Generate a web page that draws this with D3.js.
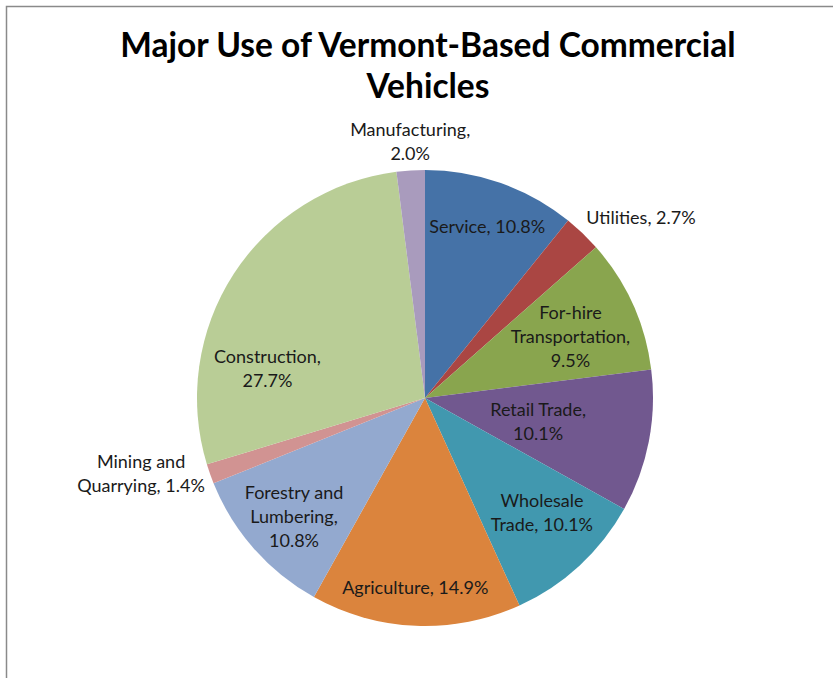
<!DOCTYPE html>
<html>
<head>
<meta charset="utf-8">
<script src="https://cdn.jsdelivr.net/npm/d3@7"></script>
<style>
  html, body { margin: 0; padding: 0; background: #fff; }
  svg { display: block; }
</style>
</head>
<body>
<svg id="chart" width="833" height="678"></svg>
<script>
// Vehicle use categories, share of Vermont-based commercial vehicles (%)
const categories = [
  "Service", "Utilities", "For-hire Transportation", "Retail Trade",
  "Wholesale Trade", "Agriculture", "Forestry and Lumbering",
  "Mining and Quarrying", "Construction", "Manufacturing"
];
const shares = [10.8, 2.7, 9.5, 10.1, 10.1, 14.9, 10.8, 1.4, 27.7, 2.0];
const colors = [
  "#4572A7", "#AA4643", "#89A54E", "#71588F", "#4198AF",
  "#DB843D", "#93A9CF", "#D19392", "#B9CD96", "#A99BBD"
];
const titleLines = ["Major Use of Vermont-Based Commercial", "Vehicles"];

// Label layout: words per line, angular nudge from the slice's mid-angle (deg),
// and distance from the centre as a fraction of the radius.
const labelWordsPerLine = [[2], [2], [1, 1, 1], [2, 1], [1, 2], [2], [2, 1, 1], [2, 2], [1, 1], [1, 1]];
const labelAngleNudge = [0.5, 6.3, 1.5, 0.9, -3.0, 0.6, -0.85, 4.5, -22.3, 0.3];
const labelRadius = [0.80, 1.236, 0.692, 0.507, 0.717, 0.834, 0.776, 1.289, 0.703, 1.128];

const W = 833, H = 678;
const cx = 425, cy = 398, R = 228;
const lineH = 24, capHalf = 6.5;

const svg = d3.select("#chart");

// frame of the chart area
svg.append("rect")
  .attr("x", 6.5).attr("y", 6.5)
  .attr("width", W + 20).attr("height", H + 20)
  .attr("fill", "none").attr("stroke", "#8a8a8a").attr("stroke-width", 1.5);

// title
const title = svg.append("text")
  .attr("text-anchor", "middle")
  .attr("font-family", "Lato, 'Open Sans', sans-serif")
  .attr("font-weight", "bold")
  .attr("font-size", 33.5)
  .attr("fill", "#000");
titleLines.forEach((t, i) => {
  title.append("tspan").attr("x", 428).attr("y", 57 + i * 41).text(t);
});

const data = categories.map((c, i) => ({ name: c, value: shares[i], color: colors[i], i }));

const pie = d3.pie().sort(null).value(d => d.value);
const arc = d3.arc().innerRadius(0).outerRadius(R);
const arcs = pie(data);

const g = svg.append("g").attr("transform", `translate(${cx},${cy})`);

g.selectAll("path.slice")
  .data(arcs)
  .join("path")
  .attr("class", "slice")
  .attr("d", arc)
  .attr("fill", d => d.data.color);

// data labels "Name, value%"
const labels = g.selectAll("text.lbl")
  .data(arcs)
  .join("text")
  .attr("class", "lbl")
  .attr("text-anchor", "middle")
  .attr("font-family", "Lato, 'Open Sans', sans-serif")
  .attr("font-size", 18)
  .attr("fill", "#1a1a1a");

labels.each(function (d) {
  const i = d.data.i;
  const words = (d.data.name + ", " + d3.format(".1f")(d.data.value) + "%").split(" ");
  const lines = [];
  let k = 0;
  labelWordsPerLine[i].forEach(n => { lines.push(words.slice(k, k + n).join(" ")); k += n; });
  const mid = (d.startAngle + d.endAngle) / 2 + labelAngleNudge[i] * Math.PI / 180;
  const dist = labelRadius[i] * R;
  const x = Math.sin(mid) * dist;
  const y = -Math.cos(mid) * dist;
  const n = lines.length;
  const t = d3.select(this);
  lines.forEach((ln, j) => {
    t.append("tspan")
      .attr("x", x)
      .attr("y", y + (j - (n - 1) / 2) * lineH + capHalf)
      .text(ln);
  });
});
</script>
</body>
</html>
